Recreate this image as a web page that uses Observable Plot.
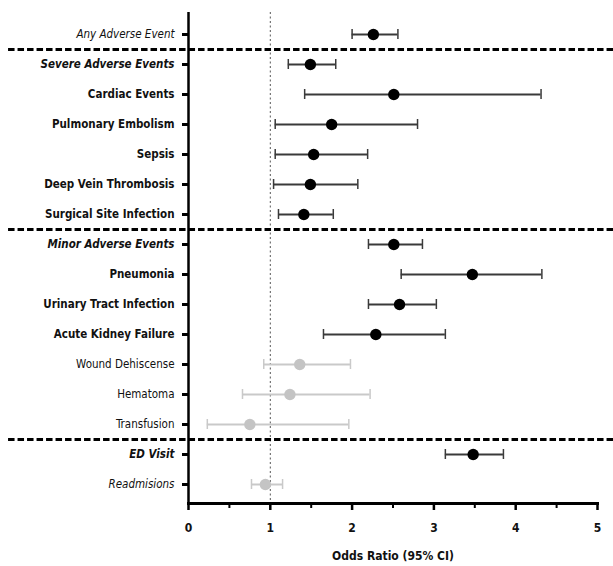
<!DOCTYPE html>
<html>
<head>
<meta charset="utf-8">
<script src="https://cdn.jsdelivr.net/npm/d3@7"></script>
<script src="https://cdn.jsdelivr.net/npm/@observablehq/plot@0.6"></script>
<style>
  html, body { margin: 0; padding: 0; background: #fff; }
</style>
</head>
<body>
<div id="chart"></div>
<script>
// ---- data ----
const outcomes = [
  "Any Adverse Event",
  "Severe Adverse Events",
  "Cardiac Events",
  "Pulmonary Embolism",
  "Sepsis",
  "Deep Vein Thrombosis",
  "Surgical Site Infection",
  "Minor Adverse Events",
  "Pneumonia",
  "Urinary Tract Infection",
  "Acute Kidney Failure",
  "Wound Dehiscense",
  "Hematoma",
  "Transfusion",
  "ED Visit",
  "Readmisions"
];
const oddsRatio = [2.26, 1.49, 2.51, 1.75, 1.53, 1.49, 1.41, 2.51, 3.47, 2.58, 2.29, 1.36, 1.24, 0.75, 3.48, 0.94];
const ciLow     = [2.00, 1.22, 1.42, 1.06, 1.06, 1.04, 1.10, 2.20, 2.60, 2.20, 1.65, 0.92, 0.66, 0.23, 3.14, 0.77];
const ciHigh    = [2.56, 1.80, 4.31, 2.80, 2.19, 2.07, 1.77, 2.86, 4.32, 3.03, 3.14, 1.98, 2.22, 1.96, 3.85, 1.15];
const xTicks = [0, 1, 2, 3, 4, 5];
const sectionEnds = ["Any Adverse Event", "Surgical Site Infection", "Transfusion"];
const italicLabels = ["Any Adverse Event", "Severe Adverse Events", "Minor Adverse Events", "ED Visit", "Readmisions"];
const boldLabels = ["Severe Adverse Events", "Cardiac Events", "Pulmonary Embolism", "Sepsis", "Deep Vein Thrombosis",
  "Surgical Site Infection", "Minor Adverse Events", "Pneumonia", "Urinary Tract Infection", "Acute Kidney Failure", "ED Visit"];

// ---- build rows ----
const rows = outcomes.map((o, i) => ({
  outcome: o, or: oddsRatio[i], lo: ciLow[i], hi: ciHigh[i],
  sig: !(ciLow[i] <= 1 && ciHigh[i] >= 1)
}));
const lineColor = d => d.sig ? "#3a3a3a" : "#c9c9c9";
const dotColor = d => d.sig ? "#000" : "#c4c4c4";

const labelGroup = (italic, bold) => rows.filter(d =>
  italicLabels.includes(d.outcome) === italic && boldLabels.includes(d.outcome) === bold);

const textOpts = {x: () => 0, y: "outcome", text: "outcome", textAnchor: "end", dx: -14, fill: "#111", fontSize: 11.5};

const chart = Plot.plot({
  width: 613,
  height: 566,
  marginLeft: 188,
  marginRight: 16,
  marginTop: 12,
  marginBottom: 63,
  style: {fontFamily: "'Liberation Sans Narrow', 'DejaVu Sans Condensed', 'Arial Narrow', sans-serif", fontSize: "12px", background: "#fff"},
  x: {domain: [0, 5]},
  y: {type: "band", domain: outcomes, range: [19, 499], padding: 0},
  marks: [
    // reference line at OR = 1
    Plot.ruleX([1], {stroke: "#555", strokeWidth: 1, strokeDasharray: "2,2.5"}),
    // section separators
    Plot.ruleY(sectionEnds, {y: d => d, dy: 15, x1: () => -2.2, x2: () => 5.2, stroke: "#000", strokeWidth: 3, strokeDasharray: "6.5,3"}),
    // error bars
    Plot.ruleY(rows, {y: "outcome", x1: "lo", x2: "hi", stroke: lineColor, strokeWidth: 2}),
    Plot.tickX(rows, {x: "lo", y: "outcome", stroke: lineColor, strokeWidth: 1.5, insetTop: 10, insetBottom: 10}),
    Plot.tickX(rows, {x: "hi", y: "outcome", stroke: lineColor, strokeWidth: 1.5, insetTop: 10, insetBottom: 10}),
    Plot.dot(rows, {x: "or", y: "outcome", r: 5.7, fill: dotColor, stroke: null}),
    // y axis
    Plot.ruleX([0], {stroke: "#000", strokeWidth: 2.5}),
    Plot.axisY({tickSize: 6, tickFormat: () => "", strokeWidth: 3, label: null}),
    Plot.text(labelGroup(false, false), {...textOpts}),
    Plot.text(labelGroup(false, true), {...textOpts, fontWeight: "bold"}),
    Plot.text(labelGroup(true, false), {...textOpts, fontStyle: "italic"}),
    Plot.text(labelGroup(true, true), {...textOpts, fontStyle: "italic", fontWeight: "bold"}),
    // x axis
    Plot.frame({anchor: "bottom", stroke: "#000", strokeWidth: 3}),
    Plot.axisX({ticks: d3.range(0.5, 5, 1), tickSize: 5, strokeWidth: 2, tickFormat: () => "", label: null}),
    Plot.axisX({ticks: xTicks, tickSize: 7, strokeWidth: 2.5, tickPadding: 13, tickFormat: d => String(d),
      fontWeight: "bold", fontSize: 12,
      label: "Odds Ratio (95% CI)", labelAnchor: "center", labelArrow: "none", labelOffset: 56, fill: "#111"})
  ]
});
document.getElementById("chart").appendChild(chart);
</script>
</body>
</html>
